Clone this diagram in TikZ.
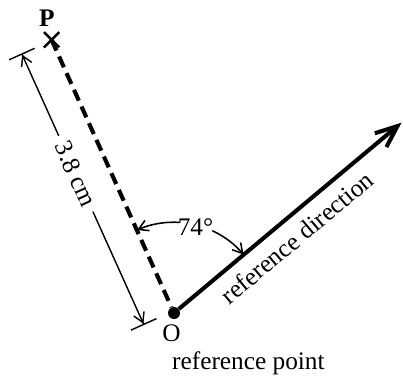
\documentclass[tikz,border=0pt]{standalone}
\usepackage{fontspec}
\setmainfont{Liberation Serif}
\usetikzlibrary{arrows.meta,calc,shapes.misc}

\begin{document}
\begin{tikzpicture}[
    lbl/.style={font=\fontsize{18}{21}\selectfont, inner sep=2pt},
    dashln/.style={line width=2.9pt, dash pattern=on 8.4pt off 4.6pt},
    refln/.style={line width=2.9pt, -{Straight Barb[length=5.5mm, width=4.5mm]}},
    dimln/.style={line width=1pt, {Bar[width=7mm]Straight Barb[length=2.4mm, width=2.8mm]}-{Straight Barb[length=2.4mm, width=2.8mm]Bar[width=7mm]}},
    angarr/.style={line width=1.1pt, -{Straight Barb[length=2.4mm, width=2.8mm]}}
]
\useasboundingbox (0,0) rectangle (10.075,9.425);

\node[circle, fill, inner sep=0pt, minimum size=3mm] (O) at (4.35,1.6) {};
\node[cross out, draw, line width=1.8pt, inner sep=0pt, minimum size=3.2mm] (P) at (1.29,8.43) {};
\coordinate (tip) at (10.04,6.36);
\coordinate (d1) at (0.54,8.09);
\coordinate (d2) at (3.60,1.30);
\coordinate (a1) at ($(O)+(65:2.27)$);
\coordinate (a2) at ($(O)+(86:2.27)$);

\node[lbl] (Plab) at (1.17,8.97) {\textbf{P}};
\node[lbl] (Olab) at (4.29,1.10) {O};
\node[lbl] (rpt) at (6.21,0.35) {reference point};
\node[lbl, inner sep=0pt] (ang) at ($(O)+(76:2.22)$) {74°};

\draw[dashln] (P.center) -- (O);
\draw[refln] (O) -- node[lbl, pos=0.47, sloped, below=5pt] (rdir) {reference direction} (tip);
\draw[dimln] (d1) -- node[lbl, pos=0.443, sloped, fill=white, inner xsep=5pt, inner ysep=0pt] (len) {3.8 cm} (d2);
\draw[angarr] (a1) arc[start angle=65, end angle=40, radius=2.27];
\draw[angarr] (a2) arc[start angle=86, end angle=114, radius=2.27];
\end{tikzpicture}
\end{document}
